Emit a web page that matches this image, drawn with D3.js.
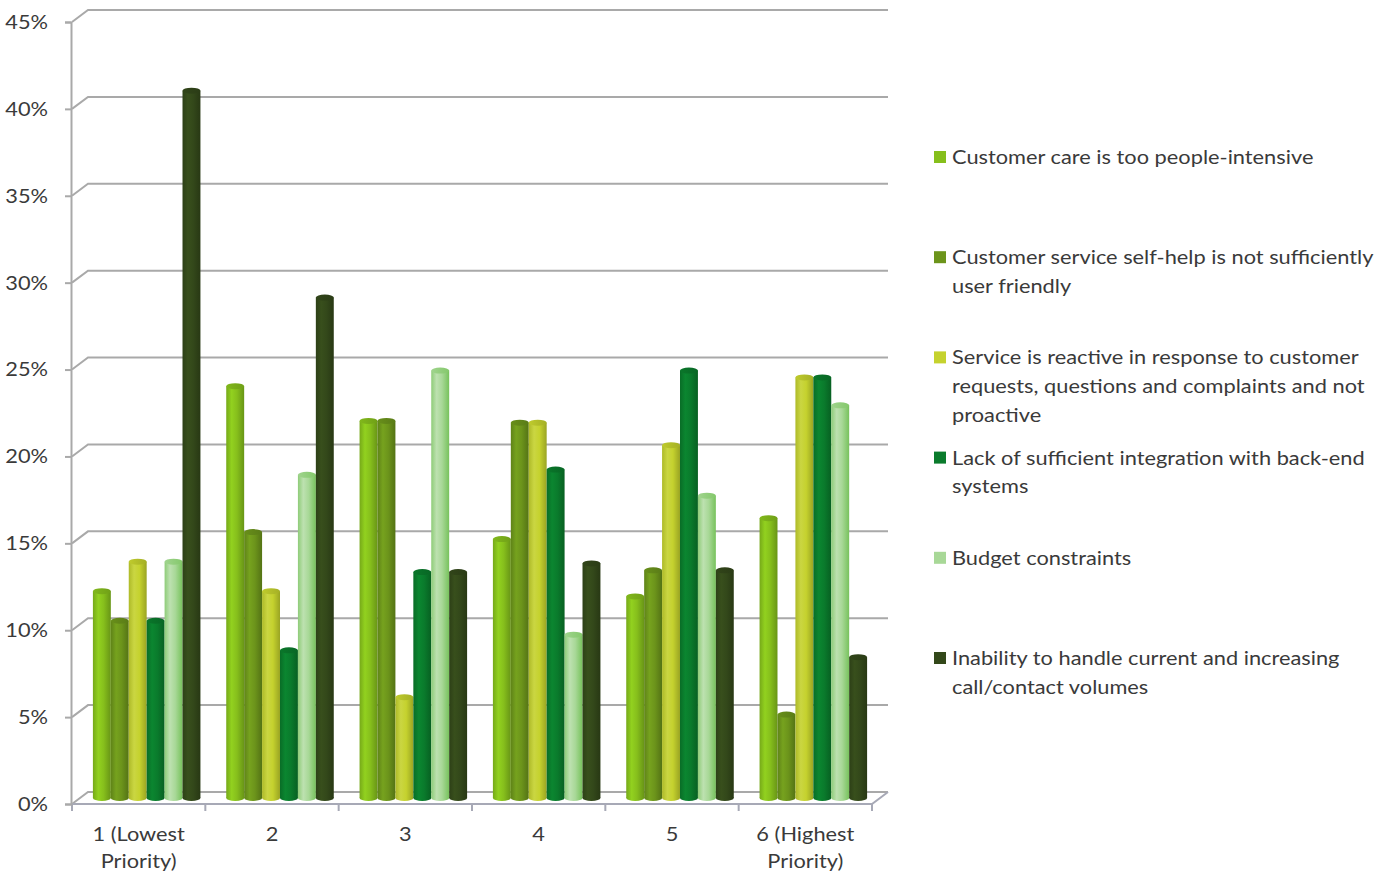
<!DOCTYPE html>
<html>
<head>
<meta charset="utf-8">
<script src="https://cdn.jsdelivr.net/npm/d3@7"></script>
<style>
  html, body { margin: 0; padding: 0; background: #ffffff; }
  svg { display: block; }
  text { font-family: Lato, "Open Sans", sans-serif; fill: #3a3a3a; }
</style>
</head>
<body>
<svg id="chart" width="1390" height="874"></svg>
<script>
// Priority rank buckets along the x axis
const categories = ["1 (Lowest Priority)", "2", "3", "4", "5", "6 (Highest Priority)"];
const categoryLines = [["1 (Lowest", "Priority)"], ["2"], ["3"], ["4"], ["5"], ["6 (Highest", "Priority)"]];

// Challenge statements (one series each)
const seriesNames = [
  "Customer care is too people-intensive",
  "Customer service self-help is not sufficiently user friendly",
  "Service is reactive in response to customer requests, questions and complaints and not proactive",
  "Lack of sufficient integration with back-end systems",
  "Budget constraints",
  "Inability to handle current and increasing call/contact volumes"
];
const legendLines = [
  ["Customer care is too people-intensive"],
  ["Customer service self-help is not sufficiently", "user friendly"],
  ["Service is reactive in response to customer", "requests, questions and complaints and not", "proactive"],
  ["Lack of sufficient integration with back-end", "systems"],
  ["Budget constraints"],
  ["Inability to handle current and increasing", "call/contact volumes"]
];
const seriesColors = ["#86bf1c", "#6c941b", "#c5d22e", "#0a7b2c", "#a8d897", "#33481a"];

// Share of respondents (%) per series, in category order
const peopleIntensive   = [11.9, 23.7, 21.7, 14.9, 11.6, 16.1];
const selfHelp          = [10.2, 15.3, 21.7, 21.6, 13.1, 4.8];
const reactive          = [13.6, 11.9, 5.8, 21.6, 20.3, 24.2];
const integration       = [10.2, 8.5, 13.0, 18.9, 24.6, 24.2];
const budget            = [13.6, 18.6, 24.6, 9.4, 17.4, 22.6];
const callVolumes       = [40.7, 28.8, 13.0, 13.5, 13.1, 8.1];
const seriesValues = [peopleIntensive, selfHelp, reactive, integration, budget, callVolumes];

const yTicks = [0, 5, 10, 15, 20, 25, 30, 35, 40, 45];

const textStretch = 1.09;   // slightly wide lettering
const svg = d3.select("#chart");

// Front plane scales; depth is faked with a fixed oblique offset
const x0 = d3.scaleBand().domain(categories).range([72, 872]).paddingInner(0).paddingOuter(0);
const x1 = d3.scaleBand().domain(d3.range(seriesNames.length)).range([0, x0.bandwidth()])
  .paddingInner(0).paddingOuter(0.72);
const y = d3.scaleLinear().domain([0, 45]).range([804, 22]);

const depth = { dx: 16, dy: -12 };      // back wall
const mid = { dx: 8, dy: -6 };          // plane the columns stand in

const gridColor = "#a9a9a9";

// Walls: side-wall diagonals + back-wall gridlines
const grid = svg.append("g");
grid.selectAll("path.grid").data(yTicks).join("path")
  .attr("class", "grid")
  .attr("fill", "none")
  .attr("stroke", gridColor)
  .attr("stroke-width", 2)
  .attr("d", d => {
    const yy = y(d);
    return `M${x0.range()[0]},${yy} L${x0.range()[0] + depth.dx},${yy + depth.dy} L${x0.range()[1] + depth.dx},${yy + depth.dy}`;
  });

// Floor front edge and right diagonal
const floor = svg.append("g");
floor.append("path")
  .attr("fill", "none")
  .attr("stroke", "#a7a9b6")
  .attr("stroke-width", 2)
  .attr("d", `M${x0.range()[0]},${y(0)} L${x0.range()[1]},${y(0)} L${x0.range()[1] + depth.dx},${y(0) + depth.dy}`);
floor.selectAll("line.xtick").data(d3.range(categories.length + 1)).join("line")
  .attr("class", "xtick")
  .attr("stroke", "#a7a9b6")
  .attr("stroke-width", 2)
  .attr("x1", i => x0.range()[0] + i * x0.step())
  .attr("x2", i => x0.range()[0] + i * x0.step())
  .attr("y1", y(0))
  .attr("y2", y(0) + 7);

// Y axis
const yAxis = d3.axisLeft(y).tickValues(yTicks).tickFormat(d => d + "%").tickSize(6).tickPadding(15);
const yg = svg.append("g").attr("transform", `translate(${x0.range()[0] - 1},0)`).call(yAxis);
yg.select(".domain").attr("stroke", gridColor).attr("stroke-width", 2);
yg.selectAll(".tick line").attr("stroke", gridColor).attr("stroke-width", 2);
yg.selectAll(".tick text")
  .attr("font-size", 20).attr("fill", "#3a3a3a")
  .attr("font-family", "Lato, 'Open Sans', sans-serif")
  .attr("x", 0)
  .attr("transform", `translate(-23,0) scale(${textStretch},1)`);

// Cylinder shading gradients
const defs = svg.append("defs");
seriesColors.forEach((c, i) => {
  const base = d3.hsl(c);
  const g = defs.append("linearGradient").attr("id", "cyl" + i).attr("x1", "0").attr("x2", "1").attr("y1", "0").attr("y2", "0");
  g.append("stop").attr("offset", "0%").attr("stop-color", base.darker(0.35));
  g.append("stop").attr("offset", "30%").attr("stop-color", base.brighter(0.25));
  g.append("stop").attr("offset", "60%").attr("stop-color", c);
  g.append("stop").attr("offset", "100%").attr("stop-color", base.darker(0.7));
  const t = defs.append("linearGradient").attr("id", "top" + i).attr("x1", "0").attr("x2", "1").attr("y1", "0").attr("y2", "0");
  t.append("stop").attr("offset", "0%").attr("stop-color", base.darker(0.1));
  t.append("stop").attr("offset", "100%").attr("stop-color", base.darker(0.5));
});

// Columns as cylinders
const rows = [];
categories.forEach((cat, ci) => {
  seriesValues.forEach((vals, si) => rows.push({ cat, si, v: vals[ci] }));
});
const ry = 3;
const bars = svg.append("g").selectAll("g.bar").data(rows).join("g").attr("class", "bar");
bars.each(function (d) {
  const g = d3.select(this);
  const left = x0(d.cat) + x1(d.si) + mid.dx;
  const w = x1.bandwidth();
  const top = y(d.v) + mid.dy;
  const bottom = y(0) + mid.dy;
  g.append("ellipse")
    .attr("cx", left + w / 2).attr("cy", bottom).attr("rx", w / 2).attr("ry", ry)
    .attr("fill", `url(#cyl${d.si})`);
  g.append("rect")
    .attr("x", left).attr("y", top).attr("width", w).attr("height", bottom - top)
    .attr("fill", `url(#cyl${d.si})`);
  g.append("ellipse")
    .attr("cx", left + w / 2).attr("cy", top).attr("rx", w / 2).attr("ry", ry)
    .attr("fill", `url(#top${d.si})`);
});

// Category labels
const xl = svg.append("g");
xl.selectAll("text").data(categories).join("text")
  .attr("transform", d => `translate(${x0(d) + x0.bandwidth() / 2},841) scale(${textStretch},1)`)
  .attr("text-anchor", "middle")
  .attr("font-size", 20)
  .each(function (d, i) {
    d3.select(this).selectAll("tspan").data(categoryLines[i]).join("tspan")
      .attr("x", 0)
      .attr("dy", (l, k) => k === 0 ? 0 : 27.5)
      .text(l => l);
  });

// Legend
const legend = svg.append("g");
const legendY = d3.scaleLinear().domain([0, 5]).range([157, 658]);
const items = legend.selectAll("g").data(seriesNames).join("g")
  .attr("transform", (d, i) => `translate(934,${legendY(i)})`);
items.append("rect")
  .attr("x", 0).attr("y", -6).attr("width", 12).attr("height", 12)
  .attr("fill", (d, i) => seriesColors[i]);
items.append("text")
  .attr("transform", `translate(18,7) scale(${textStretch},1)`)
  .attr("font-size", 20)
  .each(function (d, i) {
    d3.select(this).selectAll("tspan").data(legendLines[i]).join("tspan")
      .attr("x", 0)
      .attr("dy", (l, k) => k === 0 ? 0 : 28.8)
      .text(l => l);
  });
</script>
</body>
</html>
